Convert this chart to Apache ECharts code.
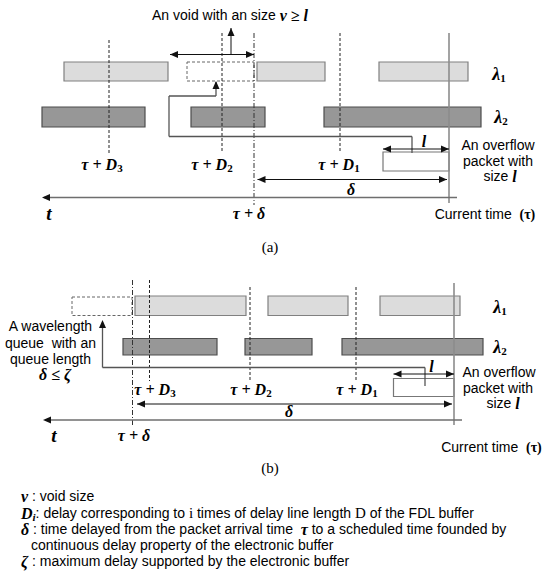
<!DOCTYPE html>
<html>
<head>
<meta charset="utf-8">
<script src="https://cdn.jsdelivr.net/npm/echarts@6/dist/echarts.min.js"></script>
<style>
html, body { margin: 0; padding: 0; background: #fff; }
#main { width: 545px; height: 578px; }
</style>
</head>
<body>
<div id="main"></div>
<script type="text/javascript">
// wavelength blocks, [start, end] on the time line, per row
var rowA1 = [[64, 168], [257, 325], [379, 468]];
var rowA2 = [[42, 145], [191, 265], [324, 481]];
var rowB1 = [[135, 246], [268, 348], [380, 460]];
var rowB2 = [[123, 217], [245, 312], [342, 483]];
// row bands [top, bottom]
var bandA1 = [62, 81], bandA2 = [107, 127];
var bandB1 = [296, 315.5], bandB2 = [338.5, 355];
// void (a) and queue (b) dashed boxes, overflow packets
var voidA = [187, 62, 254, 81];
var queueB = [72, 297, 132, 315.5];
var packets = [[383, 152, 449, 171], [393.5, 378.5, 454, 396.5]];

// segments [x0, y0, x1, y1, kind]
// kind 0 arrow line, 1 dashed, 2 dash-dot, 3 current time, 4 wire, 5 time axis
var segs = [
    [109, 40, 109, 153, 1], [222, 33, 222, 153, 1], [254, 33, 254, 205, 2], [340, 33, 340, 153, 1], [449, 33, 449, 203, 3],
    [170, 54.5, 254, 54.5, 0], [231, 54.5, 231, 28, 0],
    [412, 153, 412, 136.5, 4], [412, 136.5, 169, 136.5, 4], [169, 136.5, 169, 96, 4], [169, 96, 216, 96, 4], [216, 96, 216, 82, 4],
    [383, 149, 449, 149, 0], [257.5, 179.5, 447, 179.5, 0], [457, 197.5, 44, 197.5, 5],
    [132.5, 280, 132.5, 427, 2], [149.5, 280, 149.5, 381, 1], [250, 287, 250, 381, 1], [356, 287, 356, 381, 1], [454, 283, 454, 425, 3],
    [425, 386, 425, 367.5, 4], [425, 367.5, 102.5, 367.5, 4], [102.5, 367.5, 102.5, 322, 4],
    [393.5, 374, 454, 374, 0], [137, 404, 452, 404, 0], [462, 420, 45, 420, 5]
];
// arrow heads [tipX, tipY, direction] 0 left, 1 right, 2 up
var heads = [
    [170, 54.5, 0], [254, 54.5, 1], [231, 28, 2], [216, 81, 2],
    [383, 149, 0], [449, 149, 1], [257.5, 179.5, 0], [447, 179.5, 1], [42, 197.5, 0],
    [102.5, 320, 2], [393.5, 374, 0], [454, 374, 1], [137, 404, 0], [452, 404, 1], [43, 420, 0]
];

var labels = [
    [230, 15, 'An void with an size {m|v ≥ l}', 'center'],
    [102, 164, '{m|τ + D}{s|3}', 'center'],
    [212, 164, '{m|τ + D}{s|2}', 'center'],
    [339, 164, '{m|τ + D}{s|1}', 'center'],
    [424, 141, '{m|l}', 'center'],
    [498, 145, 'An overflow', 'center'],
    [498, 161, 'packet with', 'center'],
    [500, 176, 'size {m|l}', 'center'],
    [351, 189, '{m|δ}', 'center'],
    [49, 213, '{t|t}', 'center'],
    [249, 213, '{m|τ + δ}', 'center'],
    [485, 214, 'Current time  {n|(τ)}', 'center'],
    [499, 74, '{l|λ}{s|1}', 'center'],
    [501, 117, '{l|λ}{s|2}', 'center'],
    [270, 247, '{c|(a)}', 'center'],
    [500, 307, '{l|λ}{s|1}', 'center'],
    [500, 347, '{l|λ}{s|2}', 'center'],
    [50.5, 326, 'A wavelength', 'center'],
    [50.5, 342.5, 'queue  with an', 'center'],
    [50.5, 358.5, 'queue length', 'center'],
    [55, 374, '{m|δ ≤ ζ}', 'center'],
    [431.5, 366, '{m|l}', 'center'],
    [155, 389, '{m|τ + D}{s|3}', 'center'],
    [251, 389, '{m|τ + D}{s|2}', 'center'],
    [357, 389, '{m|τ + D}{s|1}', 'center'],
    [499, 372, 'An overflow', 'center'],
    [498, 387.5, 'packet with', 'center'],
    [503, 403, 'size {m|l}', 'center'],
    [289, 411, '{m|δ}', 'center'],
    [54, 435, '{t|t}', 'center'],
    [134, 435, '{m|τ + δ}', 'center'],
    [491.5, 447, 'Current time  {n|(τ)}', 'center'],
    [270, 468, '{c|(b)}', 'center'],
    [21, 496, '{m|v} : void size', 'left'],
    [21, 513, '{m|D}{si|i}: delay corresponding to {r|i} times of delay line length {r|D} of the FDL buffer', 'left'],
    [21, 529, '{m|δ} : time delayed from the packet arrival time  {m|τ} to a scheduled time founded by', 'left'],
    [31, 545, 'continuous delay property of the electronic buffer', 'left'],
    [21, 561, '{m|ζ} : maximum delay supported by the electronic buffer', 'left']
];

var sans = '"Liberation Sans", Arial, sans-serif';
var serif = '"Liberation Serif", "Times New Roman", serif';
var rich = {
    m: { fontFamily: serif, fontWeight: 'bold', fontStyle: 'italic', fontSize: 16, lineHeight: 18 },
    s: { fontFamily: serif, fontWeight: 'bold', fontSize: 11, lineHeight: 11, verticalAlign: 'bottom' },
    si: { fontFamily: serif, fontWeight: 'bold', fontStyle: 'italic', fontSize: 11, lineHeight: 11, verticalAlign: 'bottom' },
    l: { fontFamily: serif, fontWeight: 'bold', fontStyle: 'italic', fontSize: 18, lineHeight: 18 },
    t: { fontFamily: serif, fontWeight: 'bold', fontStyle: 'italic', fontSize: 19, lineHeight: 18 },
    n: { fontFamily: serif, fontWeight: 'bold', fontSize: 14, lineHeight: 18 },
    c: { fontFamily: serif, fontSize: 15, lineHeight: 18 },
    r: { fontFamily: serif, fontSize: 15, lineHeight: 18 }
};

var segStyles = [
    { stroke: '#111', lineWidth: 1 },
    { stroke: '#222', lineWidth: 1, lineDash: [3, 2] },
    { stroke: '#333', lineWidth: 1, lineDash: [5, 2, 1, 2] },
    { stroke: '#8c8c8c', lineWidth: 1.6 },
    { stroke: '#555', lineWidth: 1.3 },
    { stroke: '#6e6e6e', lineWidth: 1.5 }
];

function boxes(list, band) {
    return list.map(function (b) { return [b[0], band[0], b[1], band[1]]; });
}
var lightBoxes = boxes(rowA1, bandA1).concat(boxes(rowB1, bandB1));
var darkBoxes = boxes(rowA2, bandA2).concat(boxes(rowB2, bandB2));

function rectItem(style) {
    return function (params, api) {
        var p0 = api.coord([api.value(0), api.value(1)]);
        var p1 = api.coord([api.value(2), api.value(3)]);
        return {
            type: 'rect',
            shape: { x: p0[0], y: p0[1], width: p1[0] - p0[0], height: p1[1] - p0[1] },
            style: style
        };
    };
}

var option = {
    animation: false,
    backgroundColor: '#fff',
    grid: { left: 0, right: 0, top: 0, bottom: 0 },
    xAxis: { type: 'value', min: 0, max: 545, show: false },
    yAxis: { type: 'value', min: 0, max: 578, inverse: true, show: false },
    series: [
        {
            type: 'custom', silent: true, clip: false,
            renderItem: rectItem({ fill: '#dcdcdc', stroke: '#808080', lineWidth: 1.2 }),
            data: lightBoxes
        },
        {
            type: 'custom', silent: true, clip: false,
            renderItem: rectItem({ fill: '#979797', stroke: '#4d4d4d', lineWidth: 1.2 }),
            data: darkBoxes
        },
        {
            type: 'custom', silent: true, clip: false,
            renderItem: rectItem({ fill: 'none', stroke: '#666', lineWidth: 1, lineDash: [3, 2] }),
            data: [voidA, queueB]
        },
        {
            type: 'custom', silent: true, clip: false,
            renderItem: rectItem({ fill: 'none', stroke: '#777', lineWidth: 1.2 }),
            data: packets
        },
        {
            type: 'custom', silent: true, clip: false,
            renderItem: function (params, api) {
                var p0 = api.coord([api.value(0), api.value(1)]);
                var p1 = api.coord([api.value(2), api.value(3)]);
                return {
                    type: 'line',
                    shape: { x1: p0[0], y1: p0[1], x2: p1[0], y2: p1[1] },
                    style: segStyles[api.value(4)]
                };
            },
            data: segs
        },
        {
            type: 'custom', silent: true, clip: false,
            renderItem: function (params, api) {
                var p = api.coord([api.value(0), api.value(1)]);
                var d = api.value(2), L = 8, W = 3.5, pts;
                if (d === 0) pts = [[p[0], p[1]], [p[0] + L, p[1] - W], [p[0] + L, p[1] + W]];
                else if (d === 1) pts = [[p[0], p[1]], [p[0] - L, p[1] - W], [p[0] - L, p[1] + W]];
                else pts = [[p[0], p[1]], [p[0] - W, p[1] + L], [p[0] + W, p[1] + L]];
                return { type: 'polygon', shape: { points: pts }, style: { fill: '#111' } };
            },
            data: heads
        },
        {
            type: 'custom', silent: true, clip: false,
            renderItem: function (params, api) {
                var lab = labels[params.dataIndex];
                var p = api.coord([api.value(0), api.value(1)]);
                return {
                    type: 'text',
                    x: p[0], y: p[1],
                    style: {
                        text: lab[2], rich: rich,
                        fontFamily: sans, fontSize: 14, lineHeight: 18, fill: '#000',
                        align: lab[3], verticalAlign: 'middle'
                    }
                };
            },
            data: labels.map(function (l) { return [l[0], l[1]]; })
        }
    ]
};

var chart = echarts.init(document.getElementById('main'), null, { renderer: 'svg' });
chart.setOption(option);
</script>
</body>
</html>
